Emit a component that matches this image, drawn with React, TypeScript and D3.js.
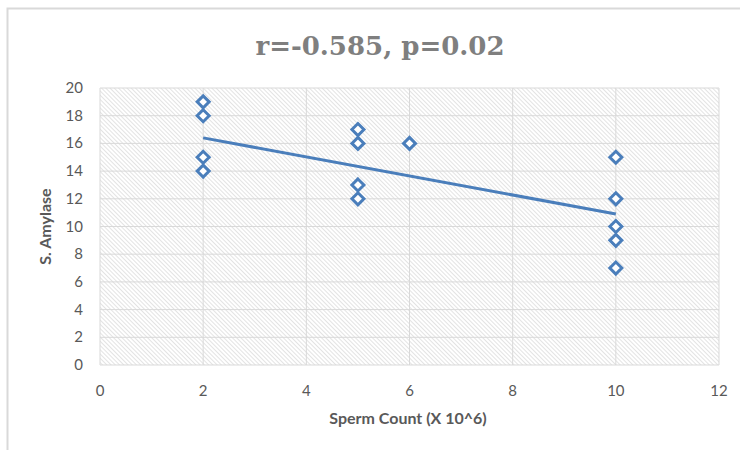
import React from "react";
import * as d3 from "d3";

const xValues = [2, 2, 2, 2, 5, 5, 5, 5, 6, 10, 10, 10, 10, 10];
const yValues = [19, 18, 15, 14, 17, 16, 13, 12, 16, 15, 12, 10, 9, 7];
const trendX = [2, 10];
const trendY = [16.4, 10.9];
const xTicks = [0, 2, 4, 6, 8, 10, 12];
const yTicks = [0, 2, 4, 6, 8, 10, 12, 14, 16, 18, 20];
const title = "r=-0.585, p=0.02";
const xTitle = "Sperm Count (X 10^6)";
const yTitle = "S. Amylase";

export default function App() {
  const W = 740, H = 450;
  const left = 100, right = 719, top = 88, bottom = 365;
  const x = d3.scaleLinear().domain([0, 12]).range([left, right]);
  const y = d3.scaleLinear().domain([0, 20]).range([bottom, top]);
  const line = d3.line<number>().x((d, i) => x(trendX[i])).y((d) => y(d));
  const diamond = (cx: number, cy: number, r: number) =>
    `M${cx},${cy - r}L${cx + r},${cy}L${cx},${cy + r}L${cx - r},${cy}Z`;
  const blue = "#4a7ebb";
  const grid = "#d9d9d9";
  const tickColor = "#595959";
  const sans = "Lato, 'Open Sans', sans-serif";
  return (
    <svg width={W} height={H} style={{ position: "absolute", left: 0, top: 0, background: "#fff" }}>
      <defs>
        <pattern id="hatch" width="3" height="3" patternUnits="userSpaceOnUse" patternTransform="rotate(-45)">
          <line x1="0" y1="0" x2="0" y2="3" stroke="#c8c8c8" strokeWidth="1" />
        </pattern>
      </defs>
      <path d={`M7.5,${H}V8.5H${W}`} fill="none" stroke="#d9d9d9" strokeWidth="2" />
      <rect x={left} y={top} width={right - left} height={bottom - top} fill="url(#hatch)" />
      {yTicks.map((t) => (
        <line key={"gy" + t} x1={left} x2={right} y1={y(t)} y2={y(t)} stroke={grid} strokeWidth={1} />
      ))}
      {xTicks.map((t) => (
        <line key={"gx" + t} x1={x(t)} x2={x(t)} y1={top} y2={bottom} stroke={grid} strokeWidth={1} />
      ))}
      {yTicks.map((t) => (
        <text key={"ty" + t} x={83} y={y(t) + 5} textAnchor="end" fontFamily={sans} fontSize={15} fill={tickColor}>
          {t}
        </text>
      ))}
      {xTicks.map((t) => (
        <text key={"tx" + t} x={x(t)} y={396} textAnchor="middle" fontFamily={sans} fontSize={15} fill={tickColor}>
          {t}
        </text>
      ))}
      <path d={line(trendY) || ""} fill="none" stroke={blue} strokeWidth={3} />
      {xValues.map((xv, i) => (
        <path key={"p" + i} d={diamond(x(xv), y(yValues[i]), 6)} fill="#fff" stroke={blue} strokeWidth={3} />
      ))}
      <text x={380} y={55} textAnchor="middle" fontFamily="'DejaVu Serif', serif" fontWeight="bold" fontSize={26} fill="#7f7f7f">
        {title}
      </text>
      <text x={408} y={424} textAnchor="middle" fontFamily={sans} fontWeight="bold" fontSize={16} fill={tickColor}>
        {xTitle}
      </text>
      <text transform={`translate(51,${(top + bottom) / 2}) rotate(-90)`} textAnchor="middle" fontFamily={sans} fontWeight="bold" fontSize={16} fill={tickColor}>
        {yTitle}
      </text>
    </svg>
  );
}
